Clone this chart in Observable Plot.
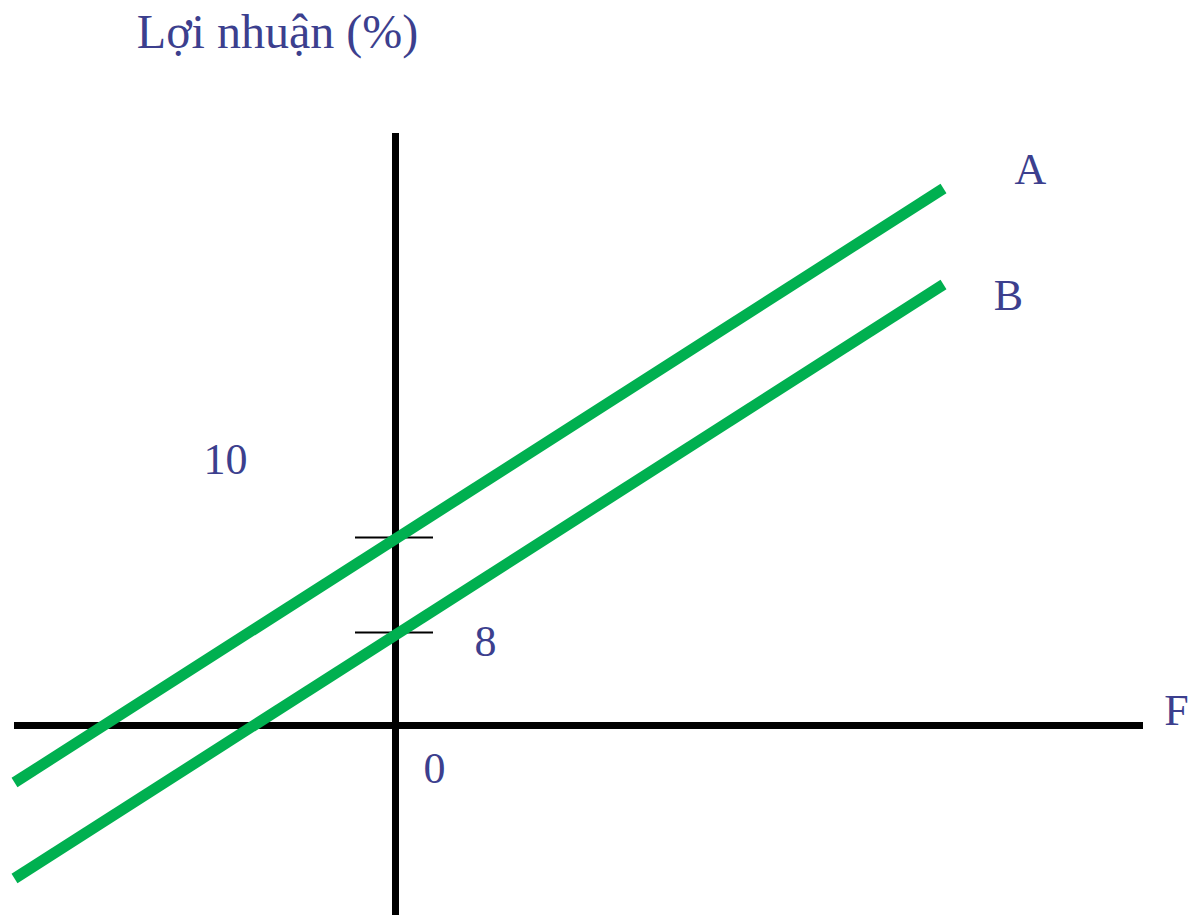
<!DOCTYPE html>
<html>
<head>
<meta charset="utf-8">
<script src="https://cdn.jsdelivr.net/npm/d3@7"></script>
<script src="https://cdn.jsdelivr.net/npm/@observablehq/plot@0.6"></script>
<style>
  html, body { margin: 0; padding: 0; background: #fff; }
  #chart svg { display: block; }
</style>
</head>
<body>
<div id="chart"></div>
<script>
// Schematic values (abstract units, origin at intersection of axes)
const lineNames = ["A", "B"];
const lineX = [-38.1, 54.8];
const lineAY = [-5.7, 53.7];
const lineBY = [-15.3, 44.1];
const tickValues = [18.8, 9.3];
const tickSpan = [-4, 3.8];
const xAxisSpan = [-38.1, 74.8];
const yAxisSpan = [-19, 59.2];

const labelText = ["10", "8", "0", "A", "B", "F"];
const labelX = [-17, 9, 3.9, 63.5, 61.3, 78.1];
const labelY = [26.6, 8.4, -4.3, 55.6, 43.0, 1.5];

const titleText = "Lợi nhuận (%)";
const titleX = -11.8;
const titleY = 69.3;

const lines = [];
lineX.forEach((x, i) => lines.push({name: lineNames[0], x, y: lineAY[i]}));
lineX.forEach((x, i) => lines.push({name: lineNames[1], x, y: lineBY[i]}));
const labels = labelText.map((t, i) => ({t, x: labelX[i], y: labelY[i]}));

const textColor = "#3c3f8e";
const green = "#00b050";

const chart = Plot.plot({
  width: 1189,
  height: 915,
  margin: 0,
  x: {domain: [-39.5, 79.4], axis: null},
  y: {domain: [-19, 72.5], axis: null},
  marks: [
    Plot.ruleY([0], {x1: xAxisSpan[0], x2: xAxisSpan[1], stroke: "black", strokeWidth: 7}),
    Plot.ruleX([0], {y1: yAxisSpan[0], y2: yAxisSpan[1], stroke: "black", strokeWidth: 7}),
    Plot.ruleY(tickValues, {x1: tickSpan[0], x2: tickSpan[1], stroke: "black", strokeWidth: 2}),
    Plot.line(lines, {x: "x", y: "y", z: "name", stroke: green, strokeWidth: 11, strokeLinecap: "butt"}),
    Plot.text(labels, {x: "x", y: "y", text: "t", fill: textColor, fontSize: 44,
      fontFamily: "Liberation Serif", lineAnchor: "middle", textAnchor: "middle"}),
    Plot.text([titleText], {x: titleX, y: titleY, text: d => d, fill: textColor, fontSize: 48,
      fontFamily: "Liberation Serif", lineAnchor: "middle", textAnchor: "middle"})
  ]
});
document.getElementById("chart").appendChild(chart);
</script>
</body>
</html>
